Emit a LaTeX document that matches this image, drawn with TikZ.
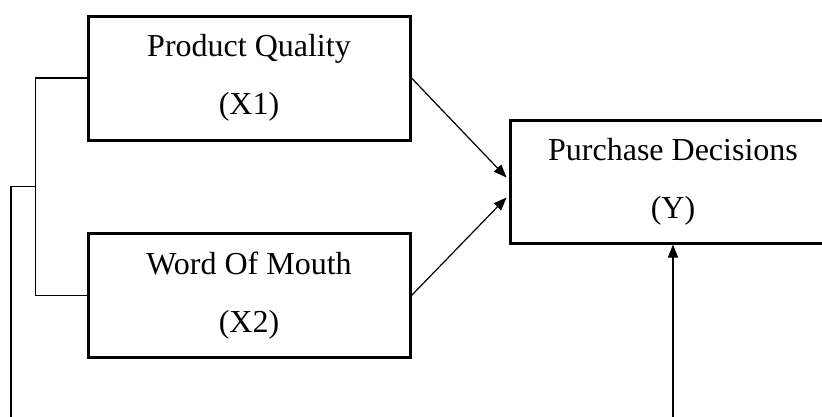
\documentclass[tikz,border=0pt]{standalone}
\usepackage{fontspec}
\setmainfont{Liberation Serif}
\usetikzlibrary{arrows.meta,positioning,calc}

\begin{document}
\begin{tikzpicture}[
  x=1pt, y=1pt,
  every node/.style={font=\fontsize{32}{60}\selectfont},
  varbox/.style={draw, line width=3pt, minimum width=322pt, minimum height=124pt, align=center, inner sep=0pt},
  link/.style={line width=1.2pt},
  arr/.style={link, -{Triangle[length=13pt, width=10pt]}}
]
\clip (0,0) rectangle (822,-416);

\node[varbox] (pq) at (249,-78) {Product Quality\\[-2pt](X1)};
\node[varbox] (wom) at (249,-295.5) {Word Of Mouth\\[-2pt](X2)};
\node[varbox, minimum width=326pt, minimum height=123pt] (pd) at (673,-181.5) {Purchase Decisions\\[-2pt](Y)};

% joint link of X1 and X2
\coordinate (jn) at ($(pq.west)!0.5!(wom.west)+(-51,0)$);
\coordinate (base) at (11,-440);
\draw[link] (pq.west) -- ++(-51,0) |- (wom.west);
\draw[arr] (jn) -| (base) -| (pd.south);

\draw[arr] (pq.east) -- ($(pd.west)+(-2,4)$);
\draw[arr] (wom.east) -- ($(pd.west)+(-2,-16)$);
\end{tikzpicture}
\end{document}
